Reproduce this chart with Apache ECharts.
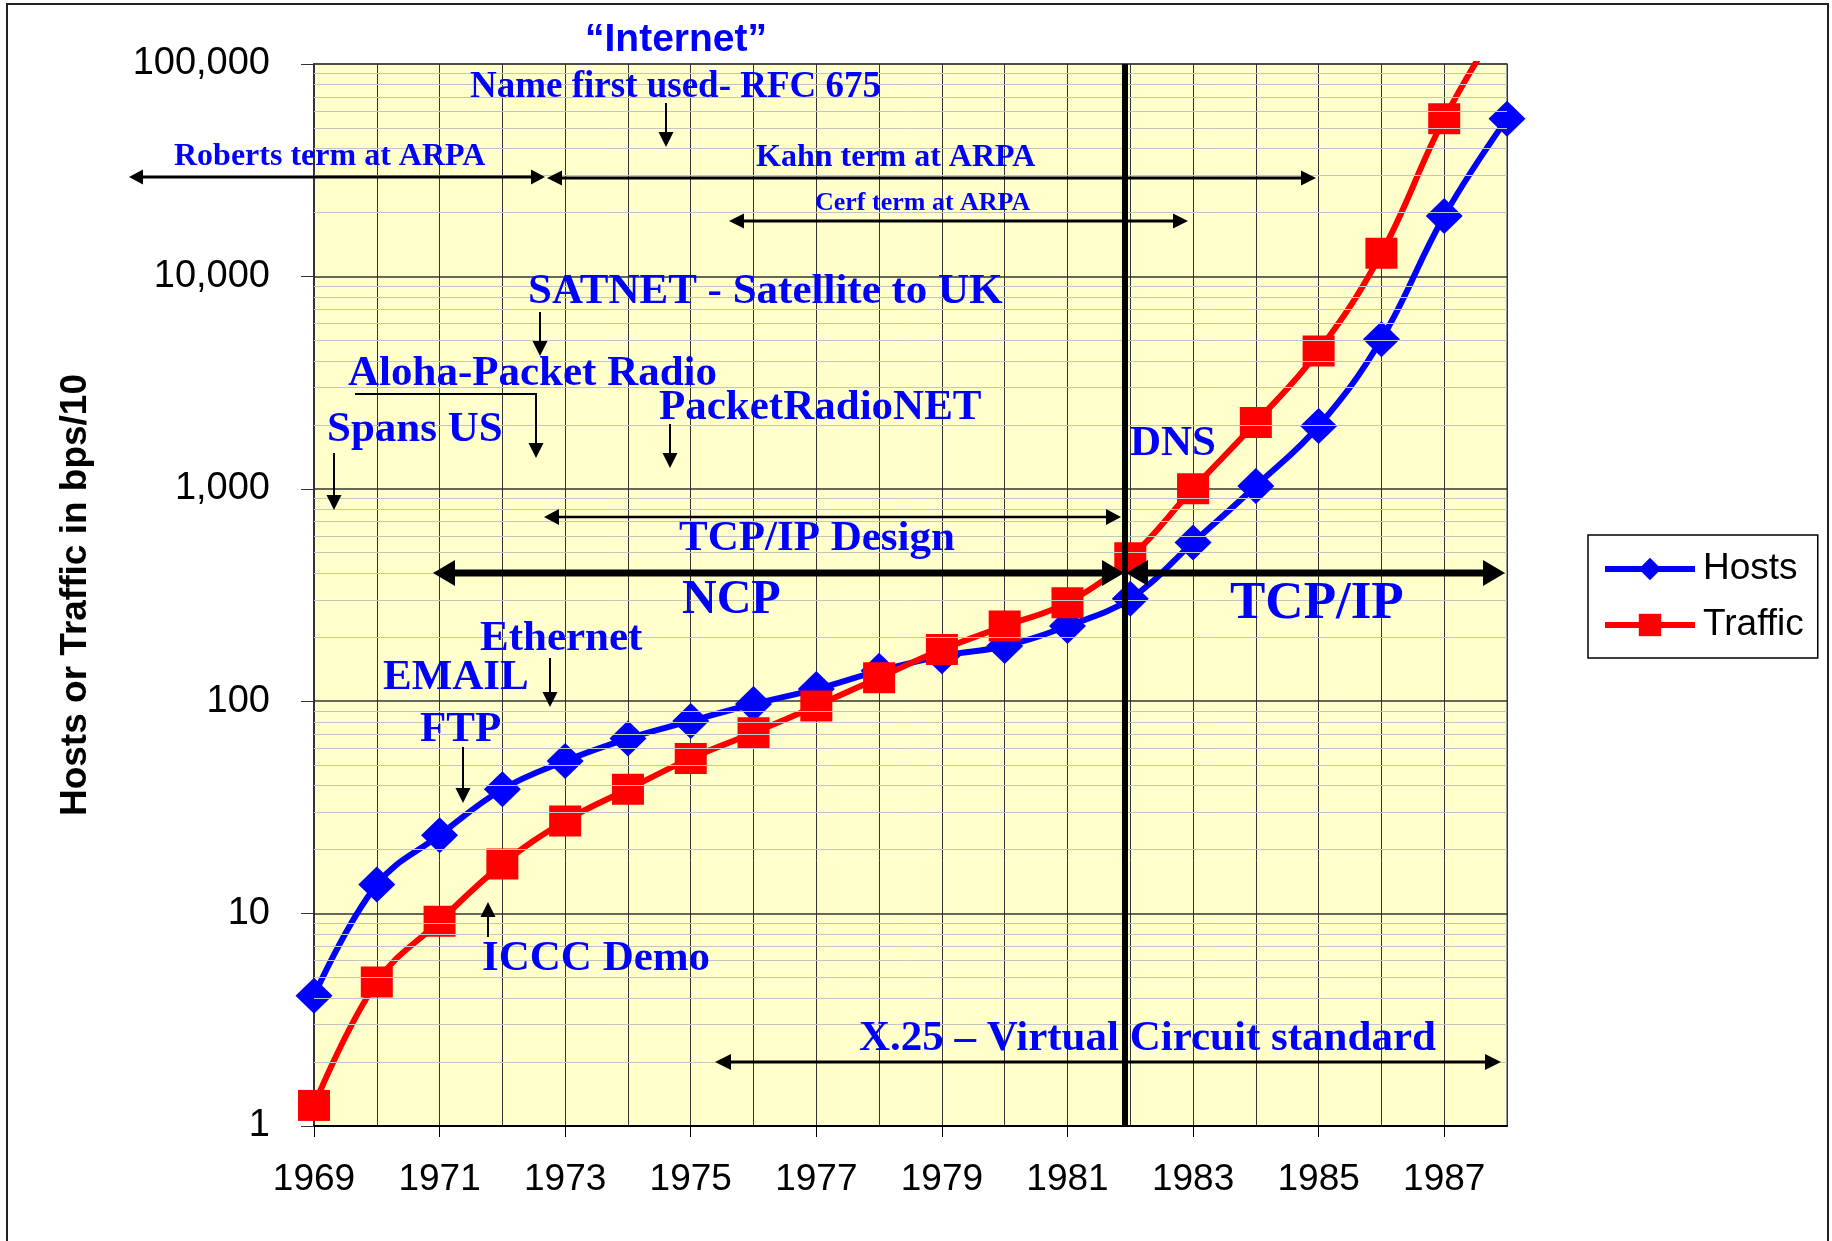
<!DOCTYPE html>
<html>
<head>
<meta charset="utf-8">
<title>Hosts and Traffic 1969-1988</title>
<script src="https://cdn.jsdelivr.net/npm/echarts@6/dist/echarts.min.js"></script>
<style>
  html, body { margin: 0; padding: 0; background: #fff; }
  #chart { width: 1832px; height: 1241px; }
</style>
</head>
<body>
<div id="chart"></div>
<script>
// data
var years = ['1969', '1970', '1971', '1972', '1973', '1974', '1975', '1976', '1977', '1978',
             '1979', '1980', '1981', '1982', '1983', '1984', '1985', '1986', '1987', '1988']
var hosts = [4.1, 13.7, 23.4, 38.5, 52.3, 66.7, 80.7, 97, 114, 139,
             163, 182, 226, 304, 558, 1031, 1976, 5060, 19250, 55300]
var traffic = [1.25, 4.76, 9.2, 17.1, 27.3, 38.5, 53.8, 71, 95, 129,
               175, 226, 291, 474, 1000, 2050, 4455, 12850, 55300, 175000]
var decades = [1, 10, 100, 1000, 10000]
var minorSteps = [2, 3, 4, 5, 6, 7, 8, 9]

var blue = '#0000FF'
var red = '#FF0000'
var serif = '"Liberation Serif", "Times New Roman", serif'
var sans = '"Liberation Sans", Arial, sans-serif'

// light grey lines at 2..9 of every decade
var minorGrid = []
decades.forEach(function (d) {
  minorSteps.forEach(function (m) { minorGrid.push({yAxis: m * d}) })
})

// annotation texts: [text, left x, cap middle y, size]
var notes = [
  ['Roberts term at ARPA', 174, 157, 32],
  ['Kahn term at ARPA', 756, 158, 32],
  ['Cerf term at ARPA', 815, 203, 26],
  ['Name first used- RFC 675', 470, 87, 37],
  ['SATNET - Satellite to UK', 528, 292, 43],
  ['Aloha-Packet Radio', 348, 374, 43],
  ['Spans US', 327, 430, 43],
  ['PacketRadioNET', 659, 408, 43],
  ['DNS', 1130, 444, 43],
  ['TCP/IP Design', 679, 539, 43],
  ['NCP', 682, 601, 48],
  ['TCP/IP', 1230, 604, 53],
  ['Ethernet', 480, 639, 43],
  ['EMAIL', 383, 678, 43],
  ['FTP', 420, 730, 43],
  ['ICCC Demo', 482, 959, 43],
  ['X.25 \u2013 Virtual Circuit standard', 859, 1039, 43]
]

// arrows: [x1, y1, x2, y2, line width, head at start, head at end, head length, head width]
var arrows = [
  [129, 177, 545, 177, 3, true, true, 14, 15],
  [547, 178, 1316, 178, 3, true, true, 15, 15],
  [729, 221, 1188, 221, 3, true, true, 15, 15],
  [544, 517, 1121, 517, 2.5, true, true, 15, 16],
  [433, 573, 1124, 573, 7, true, true, 22, 26],
  [1126, 573, 1505, 573, 7, true, true, 22, 26],
  [715, 1062, 1501, 1062, 3, true, true, 16, 16],
  [666, 103, 666, 147, 2, false, true, 15, 15],
  [540, 312, 540, 356, 2, false, true, 15, 15],
  [536, 394, 536, 458, 2, false, true, 15, 15],
  [334, 453, 334, 510, 2, false, true, 15, 15],
  [670, 424, 670, 468, 2, false, true, 15, 15],
  [550, 658, 550, 707, 2, false, true, 15, 15],
  [463, 747, 463, 803, 2, false, true, 15, 15],
  [488, 937, 488, 902, 2, false, true, 15, 15]
]

function head (tx, ty, ux, uy, len, w) {
  var px = -uy, py = ux
  return {
    type: 'polygon', z: 100, silent: true,
    shape: {points: [
      [tx, ty],
      [tx - ux * len + px * w / 2, ty - uy * len + py * w / 2],
      [tx - ux * len - px * w / 2, ty - uy * len - py * w / 2]
    ]},
    style: {fill: '#000'}
  }
}

var graphics = []
// outer chart border
graphics.push({type: 'rect', z: 100, silent: true,
  shape: {x: 7, y: 4, width: 1821, height: 1262},
  style: {fill: 'none', stroke: '#222', lineWidth: 2}})
// thick line at 1982 (NCP -> TCP/IP cut over)
graphics.push({type: 'line', z: 99, silent: true,
  shape: {x1: 1125, y1: 64, x2: 1125, y2: 1127},
  style: {stroke: '#000', lineWidth: 6}})
// Aloha bracket
graphics.push({type: 'line', z: 100, silent: true,
  shape: {x1: 355, y1: 394, x2: 537, y2: 394},
  style: {stroke: '#000', lineWidth: 2}})

arrows.forEach(function (a) {
  var dx = a[2] - a[0], dy = a[3] - a[1]
  var L = Math.sqrt(dx * dx + dy * dy)
  var ux = dx / L, uy = dy / L
  var sx = a[0], sy = a[1], ex = a[2], ey = a[3]
  if (a[5]) { sx += ux * a[7] * 0.7; sy += uy * a[7] * 0.7 }
  if (a[6]) { ex -= ux * a[7] * 0.7; ey -= uy * a[7] * 0.7 }
  graphics.push({type: 'line', z: 100, silent: true,
    shape: {x1: sx, y1: sy, x2: ex, y2: ey},
    style: {stroke: '#000', lineWidth: a[4]}})
  if (a[5]) graphics.push(head(a[0], a[1], -ux, -uy, a[7], a[8]))
  if (a[6]) graphics.push(head(a[2], a[3], ux, uy, a[7], a[8]))
})

notes.forEach(function (n) {
  graphics.push({type: 'text', z: 101, silent: true, x: n[1], y: n[2],
    style: {text: n[0], fill: blue, font: 'bold ' + n[3] + 'px ' + serif,
      align: 'left', verticalAlign: 'middle', textAlign: 'left', textVerticalAlign: 'middle'}})
})
// label above the plot
graphics.push({type: 'text', z: 101, silent: true, x: 585, y: 40,
  style: {text: '\u201CInternet\u201D', fill: blue, font: 'bold 39px ' + sans,
    align: 'left', verticalAlign: 'middle', textAlign: 'left', textVerticalAlign: 'middle'}})

var option = {
  animation: false,
  backgroundColor: '#fff',
  grid: {
    left: 314, top: 64, width: 1193, height: 1062,
    show: true, backgroundColor: '#FFFFCC', borderColor: '#999', borderWidth: 2
  },
  legend: {
    data: ['Hosts', 'Traffic'],
    orient: 'vertical',
    left: 1588, top: 535,
    itemWidth: 90, itemHeight: 28, itemGap: 16,
    padding: [14, 14, 13, 14],
    borderColor: '#000', borderWidth: 1.5,
    backgroundColor: '#fff',
    lineStyle: {width: 6},
    textStyle: {fontSize: 37, fontFamily: sans, color: '#000', lineHeight: 40, padding: [0, 0, 0, 3]}
  },
  xAxis: {
    type: 'category',
    data: years,
    boundaryGap: false,
    axisLine: {lineStyle: {color: '#000', width: 2}},
    axisTick: {show: true, interval: 1, length: 11, lineStyle: {color: '#000', width: 1}},
    axisLabel: {interval: 1, margin: 35, fontSize: 37, fontFamily: sans, color: '#000'},
    splitLine: {show: true, interval: 0, lineStyle: {color: '#333', width: 1}}
  },
  yAxis: {
    type: 'log',
    logBase: 10,
    min: 1,
    max: 100000,
    splitNumber: 5,
    name: 'Hosts or Traffic in bps/10',
    nameLocation: 'middle',
    nameRotate: 90,
    nameGap: 220,
    nameTextStyle: {fontSize: 37, fontWeight: 'bold', fontFamily: sans, color: '#000'},
    axisLine: {show: true, lineStyle: {color: '#333', width: 2}},
    axisTick: {show: true, length: 13, lineStyle: {color: '#333', width: 1}},
    axisLabel: {
      margin: 44, fontSize: 38, fontFamily: sans, color: '#000',
      formatter: function (v) {
        return String(Math.round(v)).replace(/\B(?=(\d{3})+(?!\d))/g, ',')
      }
    },
    splitLine: {show: true, lineStyle: {color: '#333', width: 1.5}}
  },
  series: [
    {
      name: 'minor grid',
      type: 'line',
      data: [],
      z: 1,
      silent: true,
      markLine: {
        silent: true,
        symbol: 'none',
        label: {show: false},
        lineStyle: {color: '#c4c4c4', width: 1, type: 'solid'},
        data: minorGrid
      }
    },
    {
      name: 'Hosts',
      type: 'line',
      data: hosts,
      smooth: 0.4,
      symbol: 'diamond',
      symbolSize: [37, 36],
      clip: true,
      z: 3,
      lineStyle: {color: blue, width: 6},
      itemStyle: {color: blue}
    },
    {
      name: 'Traffic',
      type: 'line',
      data: traffic,
      smooth: 0.4,
      symbol: 'rect',
      symbolSize: [32, 31],
      clip: true,
      z: 4,
      lineStyle: {color: red, width: 6},
      itemStyle: {color: red}
    }
  ],
  graphic: graphics
}

var myChart = echarts.init(document.getElementById('chart'))
myChart.setOption(option)
</script>
</body>
</html>
